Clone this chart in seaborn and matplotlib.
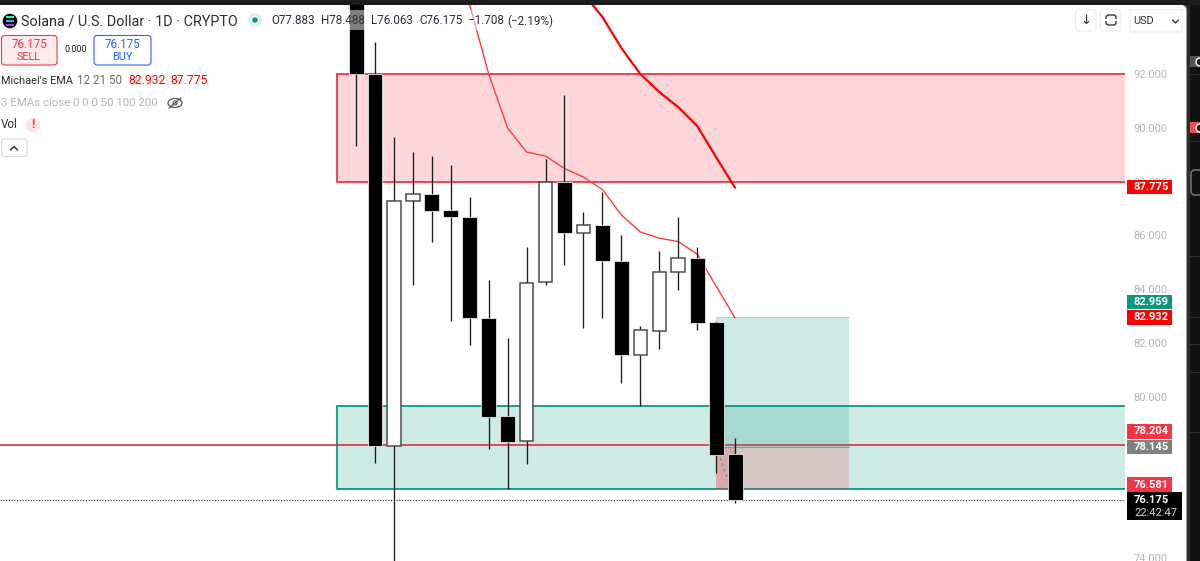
import pandas as pd
import matplotlib.pyplot as plt
from matplotlib.patches import Rectangle, FancyBboxPatch, Circle, Ellipse
import seaborn as sns

# daily candles, bar index = position in the lists
opens = [94.80, 92.00, 78.17, 87.28, 87.54, 86.94, 86.70, 82.93, 79.29, 78.36, 84.27,
         88.00, 86.09, 86.39, 85.05, 81.57, 82.45, 84.64, 85.16, 82.78, 77.883]
highs = [96.00, 93.19, 89.66, 89.10, 88.95, 88.62, 87.43, 84.34, 82.19, 85.57, 88.84,
         91.22, 86.87, 87.61, 86.01, 82.63, 85.42, 86.68, 85.57, 82.82, 78.488]
lows = [89.32, 77.54, 73.20, 84.16, 85.75, 82.82, 81.93, 78.06, 76.57, 77.50, 84.16,
        84.90, 82.56, 82.93, 80.51, 79.66, 81.78, 83.97, 82.48, 77.17, 76.063]
closes = [92.00, 78.17, 87.28, 87.54, 86.91, 86.70, 82.93, 79.25, 78.34, 84.23, 88.00,
          86.10, 86.39, 85.05, 81.57, 82.48, 84.64, 85.16, 82.74, 77.84, 76.175]

ema_fast_idx = [5, 6, 7, 8, 9, 10, 11, 12, 13, 14, 15, 16, 17, 18, 19, 20]
ema_fast = [97.00, 94.57, 92.00, 89.99, 89.10, 88.95, 88.49, 88.17, 87.71, 86.76,
            86.13, 85.90, 85.77, 85.31, 84.12, 82.932]
ema_slow_idx = [12, 13, 14, 15, 16, 17, 18, 19, 20]
ema_slow = [94.99, 94.12, 92.97, 92.00, 91.33, 90.77, 90.07, 88.91, 87.775]

supply_zone = [88.0, 92.0]
demand_zone = [76.581, 79.66]
zone_start = -1
level = 78.204
last_price = 76.175
entry = 78.145
target = 82.959
stop = 76.581
trade_start = 19
trade_now = 20
trade_end = 26

price_ticks = [74, 76, 78, 80, 82, 84, 86, 88, 90, 92]
price_labels = ["74.000", "", "", "80.000", "82.000", "84.000", "86.000", "88.000", "90.000", "92.000"]

RED = "#f23645"
TEAL = "#089981"
FONT = "Roboto"

sns.set_theme(style="white")
plt.rcParams['font.family'] = [FONT, 'DejaVu Sans']

W, H = 1200, 561
fig = plt.figure(figsize=(W / 100, H / 100), dpi=100, facecolor="#121212")


def fx(x):
    return x / W


def fy(y):
    return 1 - y / H


def box(x0, y0, x1, y1, face, edge="none", lw=0, z=1, alpha=None):
    fig.add_artist(Rectangle((fx(x0), fy(y1)), (x1 - x0) / W, (y1 - y0) / H, transform=fig.transFigure,
                             facecolor=face, edgecolor=edge, linewidth=lw, zorder=z, alpha=alpha))


def rbox(x0, y0, x1, y1, face, edge, lw=0.8, r=3, z=6):
    p = FancyBboxPatch((x0, H - y1), x1 - x0, y1 - y0, boxstyle=f"round,pad=0,rounding_size={r}",
                       transform=None, facecolor=face, edgecolor=edge, linewidth=lw, zorder=z)
    fig.add_artist(p)


def stroke(xs, ys, color="#333333", lw=1.0, z=8):
    fig.add_artist(plt.Line2D([fx(x) for x in xs], [fy(y) for y in ys], color=color, lw=lw, zorder=z))


def label(x, y, s, color="#131722", size=8.4, ha="left", weight="normal", z=8):
    fig.text(fx(x), fy(y), s, color=color, fontsize=size, ha=ha, va="center", fontweight=weight, zorder=z)


# app frame: gray border, white chart panel, dark side strip
box(0, 0, W, 5, "#1c1c1c", z=0)
box(1186, 5, 1190, H, "#2e2e2e", z=0)
box(0, 5, 1180, H, "white", z=0.1)
rbox(1170, 5, 1186.5, H + 10, "white", "none", lw=0, r=5, z=0.1)
for yy in (74, 141, 256, 317, 344, 372, 432):
    stroke([1190, 1200], [yy, yy], color="#2e2e2e", lw=0.8, z=0.2)
box(1190, 56, 1200, 67, "#555555", z=0.2)
box(1190, 122, 1200, 133, "#ef5350", z=0.2)
fig.add_artist(Circle((1200, H - 62), 4, transform=None, facecolor="#1a1a1a", zorder=0.3))
fig.add_artist(Circle((1200, H - 128), 4, transform=None, facecolor="#1a1a1a", zorder=0.3))
rbox(1191, 170, 1206, 195, "none", "#777777", lw=1.1, r=4, z=0.3)

ax = fig.add_axes([0, 0, 1125 / W, (H - 5) / H], facecolor="none")
ax.set_zorder(1)
ax.set_xlim(-18.79, 40.58)
ax.set_ylim(73.90, 92 + 69 / 26.9)

# zones
for zone, col in ((supply_zone, RED), (demand_zone, TEAL)):
    ax.add_patch(Rectangle((zone_start, zone[0]), 60, zone[1] - zone[0], facecolor=col, alpha=0.2,
                           edgecolor="none", zorder=1))
    ax.plot([zone_start, zone_start, 60], [zone[1], zone[0], zone[0]], color=col, lw=1.3, zorder=1.5)
    ax.plot([zone_start, 60], [zone[1], zone[1]], color=col, lw=1.3, zorder=1.5)
ax.axhline(level, color="#e0303f", lw=1.2, zorder=2)
ax.axhline(last_price, color="#444444", lw=0.9, ls=(0, (1, 1.2)), zorder=2)

# long position tool
ax.add_patch(Rectangle((trade_start, entry), trade_end - trade_start, target - entry, facecolor=TEAL,
                       alpha=0.2, edgecolor="none", zorder=3))
ax.add_patch(Rectangle((trade_start, stop), trade_end - trade_start, entry - stop, facecolor=RED,
                       alpha=0.2, edgecolor="none", zorder=3))
ax.add_patch(Rectangle((trade_start, stop), trade_now - trade_start, entry - stop, facecolor=RED,
                       alpha=0.2, edgecolor="none", zorder=3))
ax.plot([trade_start, trade_end], [target, target], color=TEAL, lw=0.8, alpha=0.2, zorder=3)
ax.plot([trade_start, trade_end], [entry, entry], color="#808080", lw=0.8, alpha=0.7, zorder=3)
ax.plot([trade_start, trade_now], [entry, last_price], color="#808080", lw=0.7, ls=(0, (3, 3)), zorder=3)

# emas
fast_df = pd.DataFrame({"bar": ema_fast_idx, "price": ema_fast})
slow_df = pd.DataFrame({"bar": ema_slow_idx, "price": ema_slow})
sns.lineplot(data=fast_df, x="bar", y="price", color="#ff3b3b", lw=1.0, ax=ax, zorder=4)
sns.lineplot(data=slow_df, x="bar", y="price", color="#ff0000", lw=1.6, ax=ax, zorder=4)

# candles
for i in range(len(opens)):
    down = closes[i] < opens[i]
    ax.plot([i, i], [lows[i], highs[i]], color="#1a1a1a", lw=0.95, zorder=5, solid_capstyle="butt")
    bottom = min(opens[i], closes[i])
    height = abs(opens[i] - closes[i])
    if down:
        ax.bar(i, height, bottom=bottom, width=0.79, color="black", edgecolor="white", linewidth=0.5, zorder=6)
    else:
        ax.bar(i, height, bottom=bottom, width=0.71, color="white", edgecolor="#4d4d4d", linewidth=1.1, zorder=6)

ax.set_xticks([])
ax.set_yticks(price_ticks)
ax.set_yticklabels(price_labels)
ax.yaxis.tick_right()
ax.tick_params(axis="y", length=0, pad=6.3, labelsize=8, labelcolor="#b2b5be")
sns.despine(ax=ax, left=True, bottom=True, right=True, top=True)
ax.set_xlabel("")
ax.set_ylabel("")

# legend strip fades what is behind it
box(0, 10, 560, 30, "white", z=3, alpha=0.5)

# header
fig.add_artist(Circle((10, H - 21), 8, transform=None, facecolor="#0b0b14", zorder=6))
for yy, col in ((17, "#19fb9b"), (21, "#3fa8d8"), (25, "#9945ff")):
    box(6, yy - 0.8, 14, yy + 0.8, col, z=7)
label(21, 21, "Solana / U.S. Dollar · 1D · CRYPTO", size=10.4, color="#2a2e39")
fig.add_artist(Circle((255, H - 20), 7.5, transform=None, facecolor="#d5efea", zorder=6))
fig.add_artist(Circle((255, H - 20), 3.5, transform=None, facecolor=TEAL, zorder=7))
for xpos, txt in ((271, "O77.883"), (321, "H78.488"), (371, "L76.063"), (419, "C76.175"),
                  (468, "−1.708"), (507, "(−2.19%)")):
    label(xpos, 21, txt, color="#2a2e39")

rbox(1.5, 35.5, 57, 65, "#fdebec", RED)
label(29, 44, "76.175", color=RED, ha="center")
label(29, 57, "SELL", color=RED, size=7.8, ha="center")
label(76, 50, "0.000", size=6.4, ha="center")
rbox(94, 35.5, 151, 65, "white", "#2962ff")
label(122.5, 44, "76.175", color="#2962ff", ha="center")
label(122.5, 57, "BUY", color="#2962ff", size=7.8, ha="center")

label(1, 81, "Michael's EMA", size=7.9, color="#2a2e39")
label(77, 81, "12 21 50", color="#6a6d78")
label(128.5, 81, "82.932", size=8.7, color="#ff0000")
label(170, 81, "87.775", size=8.7, color="#ff0000")
label(1, 103, "3 EMAs close 0 0 0 50 100 200", size=8.2, color="#b2b5be")
fig.add_artist(Ellipse((175, H - 103), 14, 9, transform=None, facecolor="white", edgecolor="#555555", lw=0.9, zorder=7))
fig.add_artist(Circle((175, H - 103), 2, transform=None, facecolor="white", edgecolor="#555555", lw=0.8, zorder=7))
stroke([169, 181], [108, 98], color="#555555", lw=0.9)
label(1, 125, "Vol", color="#2a2e39")
fig.add_artist(Circle((33, H - 125), 8, transform=None, facecolor="#fde3e5", zorder=6))
label(33, 125, "!", size=9, color=RED, ha="center", weight="bold")
rbox(1.5, 139, 27, 156.5, "white", "#d8d8d8")
stroke([10.5, 14, 17.5], [150, 146.5, 150], color="#333333", lw=1.1)

# top right buttons
rbox(1075.5, 9.5, 1096, 31, "white", "#eeeeee")
label(1086, 20, "↓", size=9.5, ha="center", color="#333333")
rbox(1100.5, 9.5, 1121, 31, "white", "#eeeeee")
rbox(1106, 15, 1116, 25, "white", "#333333", lw=1, r=2.5, z=7)
box(1104, 19, 1118, 21, "white", z=7)
rbox(1130, 9.5, 1182.5, 32, "white", "#eeeeee")
label(1133.5, 21, "USD", size=7.8, color="#2a2e39")
stroke([1172.5, 1175.5, 1178.5], [20, 23, 20], color="#333333", lw=1.0)

# price scale labels
scale_tags = [
    (180, 194, "87.775", "#ff0000"),
    (295, 309, "82.959", TEAL),
    (310, 325, "82.932", "#ff0000"),
    (424, 439, "78.204", RED),
    (440, 454, "78.145", "#808080"),
    (477, 492, "76.581", RED),
]
for y0, y1, txt, col in scale_tags:
    box(1127, y0, 1172, y1, col, z=7)
    label(1134, (y0 + y1) / 2, txt, color="white", size=8, weight="bold")
box(1127, 492, 1182, 520, "#000000", z=7)
label(1134, 500, "76.175", color="white", size=8, weight="bold")
label(1134, 513, "22:42:47", color="#d5d5d5", size=8)

plt.savefig("out.png", dpi=100, facecolor=fig.get_facecolor())
